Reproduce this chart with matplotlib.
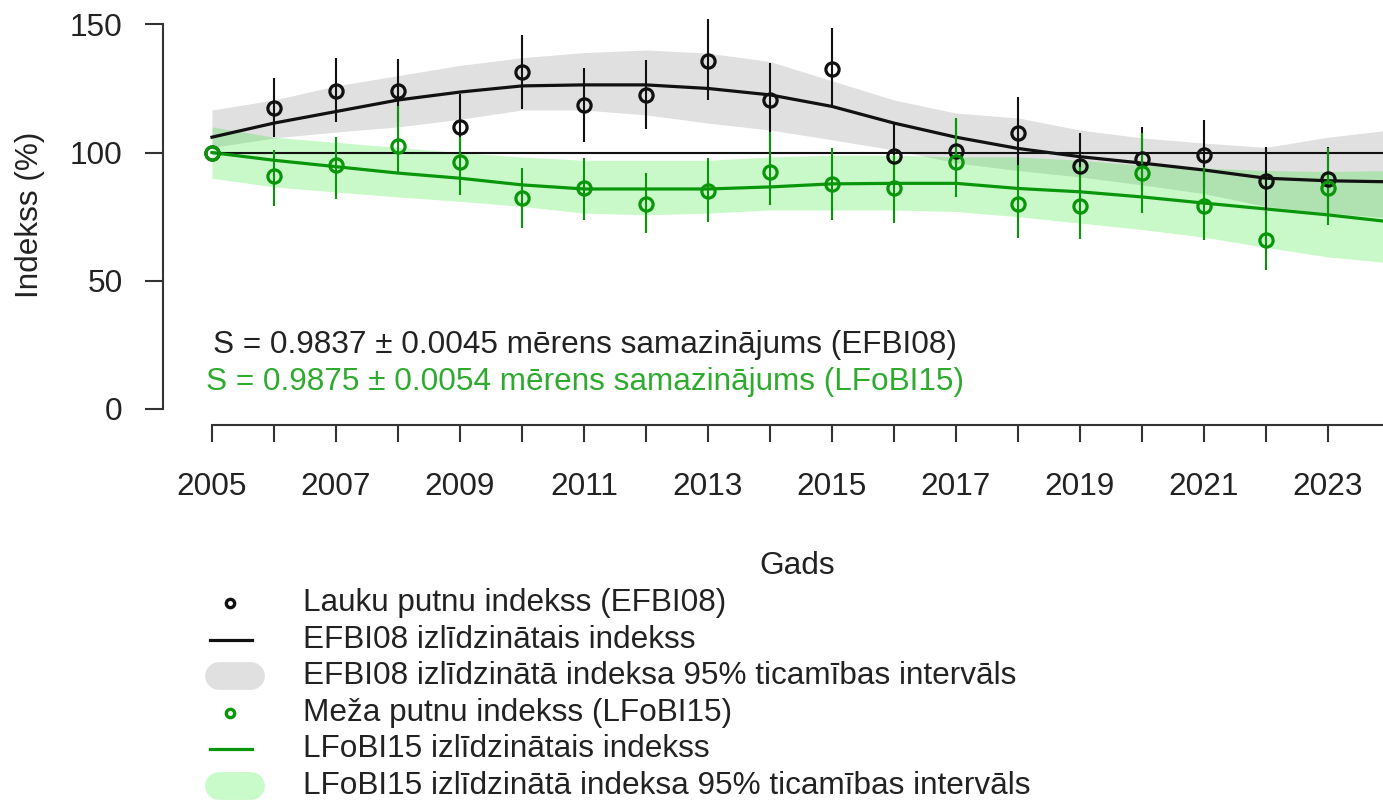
import numpy as np
import matplotlib.pyplot as plt
from matplotlib.lines import Line2D

plt.rcParams["font.family"] = ["Liberation Sans", "DejaVu Sans"]

# --- yearly indices with 95% error bars ---
years = [2005, 2006, 2007, 2008, 2009, 2010, 2011, 2012, 2013, 2014,
         2015, 2016, 2017, 2018, 2019, 2020, 2021, 2022, 2023]

efbi_index = [100, 117.4, 124, 124, 110, 131.4, 118.5, 122.5, 135.7, 120.5,
              132.6, 98.8, 100.5, 107.6, 94.8, 97.4, 99, 89, 89.7]
efbi_hi = [100, 129, 137, 136.5, 123, 146, 133, 136, 152, 135,
           148.6, 111, 113, 121.7, 107.6, 110, 112.7, 102, 102]
efbi_lo = [100, 106, 112, 112, 97, 117, 104, 109, 120.5, 100,
           118, 86, 88, 94, 82, 85, 86, 76, 77]

lfobi_index = [100, 91, 95, 102.6, 96.2, 82.4, 86, 80, 85, 92.5,
               87.7, 86, 96.3, 80, 79.3, 92, 79.3, 66, 86]
lfobi_hi = [100, 101, 106, 118, 106, 94, 98, 92, 98, 108,
            101.6, 99, 113.5, 95, 94.5, 107.6, 94.5, 77.6, 101.6]
lfobi_lo = [100, 79, 82, 92, 83.5, 70.6, 73.7, 68.5, 73, 79.6,
            73.7, 72.5, 82.7, 66.7, 66.3, 76.4, 66, 54.2, 71.8]

# --- smoothed indices and their 95% bands ---
fit_years = [2005, 2006, 2007, 2008, 2009, 2010, 2011, 2012, 2013, 2014,
             2015, 2016, 2017, 2018, 2019, 2020, 2021, 2022, 2023, 2024]

efbi_fit = [106, 111.5, 116, 120.5, 123.6, 126, 126.4, 126.4, 125, 122.5,
            118, 111.5, 106, 101.6, 98.4, 95.9, 93.2, 90, 89, 88.6]
efbi_fit_hi = [116.6, 120.5, 126, 130, 134, 137, 139, 140, 138.8, 135.5,
               128, 120.5, 115.4, 113.5, 108.8, 105.7, 103.7, 102, 106, 108.8]
efbi_fit_lo = [102, 105.7, 108, 110, 113, 116.6, 116.6, 114.7, 111.5, 108.8,
               105, 101, 96, 93, 90.5, 87.4, 84, 79, 76.4, 74.5]

lfobi_fit = [100, 97, 94.5, 92, 90, 87.4, 85.8, 85.8, 85.8, 86.6,
             87.8, 88, 88, 86, 84.7, 82.7, 80.3, 78, 75.7, 73]
lfobi_fit_hi = [110, 106, 104, 102, 100, 98.3, 97, 97, 97, 98.3,
                99, 99, 98.3, 98.3, 97, 95, 94, 93, 92.6, 93]
lfobi_fit_lo = [90, 86.6, 84.6, 82.7, 81, 79, 76.4, 75.7, 76.4, 77.6,
                77.6, 77.6, 77, 75, 72.5, 70, 67, 63, 59.3, 57]

xtick_labels = ["2005", "", "2007", "", "2009", "", "2011", "", "2013", "",
                "2015", "", "2017", "", "2019", "", "2021", "", "2023"]
ytick_values = [0, 50, 100, 150]

trend_efbi = "S = 0.9837 ± 0.0045 mērens samazinājums (EFBI08)"
trend_lfobi = "S = 0.9875 ± 0.0054 mērens samazinājums (LFoBI15)"

legend_labels = [
    "Lauku putnu indekss (EFBI08)",
    "EFBI08 izlīdzinātais indekss",
    "EFBI08 izlīdzinātā indeksa 95% ticamības intervāls",
    "Meža putnu indekss (LFoBI15)",
    "LFoBI15 izlīdzinātais indekss",
    "LFoBI15 izlīdzinātā indeksa 95% ticamības intervāls",
]

BLACK = "#111111"
GREEN = "#0a960a"
GREEN_TEXT = "#2eab2e"
GREY_BAND = "#e0e0e0"
GREEN_BAND = (0.0, 0.9, 0.0, 0.21)
AXIS_COL = "#333333"
TEXT_COL = "#222222"
FS = 22.7

W, H = 1383, 810
fig = plt.figure(figsize=(W / 100, H / 100), dpi=100)
ax = fig.add_axes([163 / W, 1 - 425 / H, 1220 / W, 425 / H])

# bands first, reference line, then fitted lines, bars and points
ax.fill_between(fit_years, efbi_fit_lo, efbi_fit_hi, color=GREY_BAND, lw=0, zorder=1)
ax.fill_between(fit_years, lfobi_fit_lo, lfobi_fit_hi, color=GREEN_BAND, lw=0, zorder=2)
ax.axhline(100, xmin=(2005 - 2004.21) / (2023.887 - 2004.21), color=BLACK, lw=1.5, zorder=3)

ax.plot(fit_years, efbi_fit, color=BLACK, lw=2.3, zorder=4)
ax.plot(fit_years, lfobi_fit, color=GREEN, lw=2.3, zorder=4)

ax.vlines(years[1:], efbi_lo[1:], efbi_hi[1:], color=BLACK, lw=1.5, zorder=5)
ax.vlines(years[1:], lfobi_lo[1:], lfobi_hi[1:], color=GREEN, lw=1.5, zorder=5)

ax.plot(years, efbi_index, ls="none", marker="o", ms=9.5, mfc="none",
        mec=BLACK, mew=2.3, zorder=6)
ax.plot(years, lfobi_index, ls="none", marker="o", ms=9.5, mfc="none",
        mec=GREEN, mew=2.3, zorder=6)

ax.text(2011.02, 25, trend_efbi, color=TEXT_COL, fontsize=FS, ha="center", va="center")
ax.text(2011.02, 10.5, trend_lfobi, color=GREEN_TEXT, fontsize=FS, ha="center", va="center")

# R-style detached axes
ax.set_xlim(2004.21, 2023.887)
ax.set_ylim(-6.24, 159.5)
for side in ("top", "right"):
    ax.spines[side].set_visible(False)
ax.spines["left"].set_bounds(0, 150)
ax.spines["bottom"].set_bounds(2005, 2023.887)
for side in ("left", "bottom"):
    ax.spines[side].set_color(AXIS_COL)
    ax.spines[side].set_linewidth(1.5)

ax.set_xticks(years)
ax.set_xticklabels(xtick_labels)
ax.set_yticks(ytick_values)
ax.set_yticklabels([str(v) for v in ytick_values])
ax.tick_params(axis="x", length=12.5, width=1.5, color=AXIS_COL, pad=21,
               labelsize=FS, labelcolor=TEXT_COL)
ax.tick_params(axis="y", length=13, width=1.5, color=AXIS_COL, pad=16,
               labelsize=FS, labelcolor=TEXT_COL)

ax.set_xlabel("Gads", fontsize=FS, color=TEXT_COL)
ax.xaxis.set_label_coords((797 - 163) / 1220, (425 - 566) / 425)
ax.set_ylabel("Indekss (%)", fontsize=FS, color=TEXT_COL)
ax.yaxis.set_label_coords((30 - 163) / 1220, (425 - 215) / 425)
ax.xaxis.label.set_va("center")
ax.yaxis.label.set_va("center")

# legend block below the axis, drawn in pixel space
lg = fig.add_axes([0, 0, 1, 1], facecolor="none")
lg.set_xlim(0, W)
lg.set_ylim(H, 0)
lg.axis("off")

row_y = [603 + i * 36.6 for i in range(len(legend_labels))]
styles = [
    ("point", BLACK), ("line", BLACK), ("band", GREY_BAND),
    ("point", GREEN), ("line", GREEN), ("band", (0.79, 0.98, 0.79)),
]
for y, (kind, col), label in zip(row_y, styles, legend_labels):
    if kind == "point":
        lg.add_line(Line2D([230], [y], ls="none", marker="o", ms=6, mfc="none",
                           mec=col, mew=2.4))
    elif kind == "line":
        lg.add_line(Line2D([210, 252], [y, y], color=col, lw=2.3))
    else:
        lg.add_line(Line2D([219, 251], [y, y], color=col, lw=20,
                           solid_capstyle="round"))
    lg.text(303, y, label, fontsize=FS, color=TEXT_COL, ha="left", va="center")

fig.savefig("out.png", dpi=100)
